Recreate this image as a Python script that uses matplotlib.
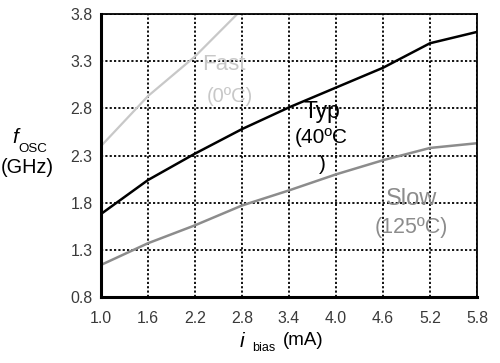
import matplotlib
matplotlib.use('Agg')
import matplotlib.pyplot as plt

plt.rcParams['font.family'] = ['Liberation Sans', 'DejaVu Sans']

# data
x_ticks = [1.0, 1.6, 2.2, 2.8, 3.4, 4.0, 4.6, 5.2, 5.8]
y_ticks = [0.8, 1.3, 1.8, 2.3, 2.8, 3.3, 3.8]

ibias = [1.0, 1.6, 2.2, 2.8, 3.4, 4.0, 4.6, 5.2, 5.8]
typ = [1.68, 2.04, 2.32, 2.58, 2.81, 3.02, 3.23, 3.49, 3.61]
slow = [1.14, 1.37, 1.56, 1.77, 1.93, 2.10, 2.25, 2.38, 2.43]
fast_x = [1.0, 1.6, 2.2, 2.8]
fast = [2.40, 2.93, 3.35, 3.85]

fig = plt.figure(figsize=(5.0, 3.63), dpi=100)
ax = fig.add_axes([101 / 500, 1 - 297 / 363, 376 / 500, 283 / 363])

ax.plot(fast_x, fast, color='#c8c8c8', lw=1.6)
ax.plot(ibias, typ, color='black', lw=1.8)
ax.plot(ibias, slow, color='#8c8c8c', lw=1.8)

ax.set_xlim(1.0, 5.8)
ax.set_ylim(0.8, 3.8)
ax.set_xticks(x_ticks)
ax.set_yticks(y_ticks)
ax.set_xticklabels([f'{v:.1f}' for v in x_ticks])
ax.set_yticklabels([f'{v:.1f}' for v in y_ticks])
ax.tick_params(length=0, labelsize=11.4, labelcolor='#3a3a3a')
ax.tick_params(axis='x', pad=10)
ax.tick_params(axis='y', pad=6)
ax.grid(True, color='black', linestyle=(0, (1.2, 1.2)), lw=1.3)

for side in ['left', 'bottom']:
    ax.spines[side].set_linewidth(2.2)
for side in ['top', 'right']:
    ax.spines[side].set_linewidth(1.3)

# curve labels
ax.text(2.57, 3.21, 'Fast', color='#c8c8c8', fontsize=16, ha='center', va='baseline')
ax.text(2.65, 2.87, '(0ºC)', color='#c8c8c8', fontsize=14.5, ha='center', va='baseline')
ax.text(3.82, 2.70, 'Typ', color='black', fontsize=16.5, ha='center', va='baseline')
ax.text(3.81, 2.43, '(40ºC', color='black', fontsize=15, ha='center', va='baseline')
ax.text(3.82, 2.15, ')', color='black', fontsize=15, ha='center', va='baseline')
ax.text(4.97, 1.775, 'Slow', color='#8c8c8c', fontsize=17, ha='center', va='baseline')
ax.text(4.96, 1.48, '(125ºC)', color='#8c8c8c', fontsize=15.5, ha='center', va='baseline')

# axis labels
fig.text(12 / 500, 1 - 143 / 363, 'f', style='italic', fontsize=15, ha='left', va='baseline')
fig.text(18 / 500, 1 - 152 / 363, 'OSC', fontsize=9.6, ha='left', va='baseline')
fig.text(27 / 500, 1 - 173 / 363, '(GHz)', fontsize=14.3, ha='center', va='baseline')
fig.text(240 / 500, 1 - 347 / 363, 'i', style='italic', fontsize=15, ha='left', va='baseline')
fig.text(252 / 500, 1 - 351 / 363, 'bias', fontsize=9, ha='left', va='baseline')
fig.text(283 / 500, 1 - 345 / 363, '(mA)', fontsize=13.5, ha='left', va='baseline')

fig.savefig('out.png', dpi=100)
